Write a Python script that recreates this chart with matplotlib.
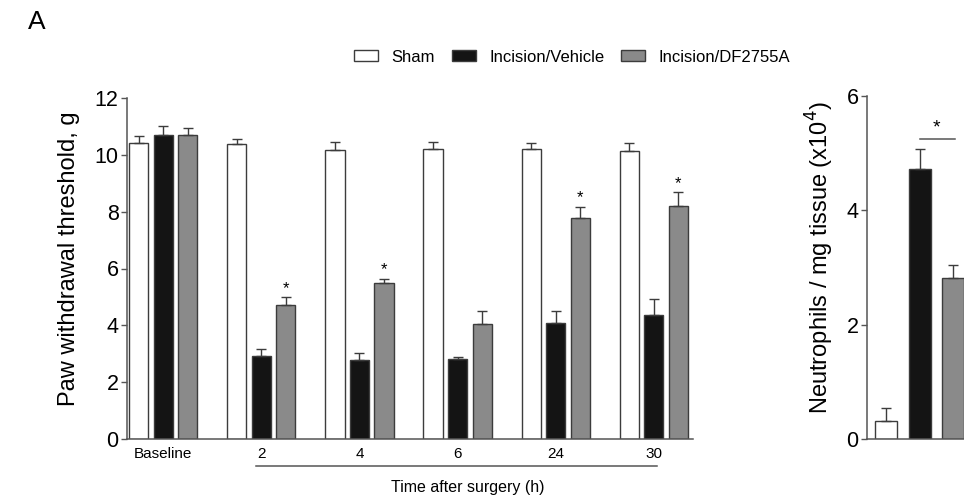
import numpy as np
import matplotlib.pyplot as plt
from matplotlib.patches import Patch
from matplotlib.transforms import blended_transform_factory

plt.rcParams['font.family'] = ['Liberation Sans', 'DejaVu Sans']

# ---- data ----
groups = ["Baseline", "2", "4", "6", "24", "30"]

sham = [10.43, 10.38, 10.18, 10.22, 10.20, 10.15]
sham_err = [0.25, 0.16, 0.28, 0.24, 0.22, 0.25]
vehicle = [10.71, 2.91, 2.77, 2.83, 4.07, 4.37]
vehicle_err = [0.32, 0.26, 0.27, 0.07, 0.43, 0.56]
df2755a = [10.71, 4.71, 5.48, 4.05, 7.77, 8.20]
df2755a_err = [0.25, 0.27, 0.15, 0.44, 0.40, 0.49]
df_star = [False, True, True, False, True, True]

neutro_labels = ["Sham", "Incision/Vehicle", "Incision/DF2755A"]
neutro = [0.32, 4.72, 2.82]
neutro_err = [0.22, 0.35, 0.22]

C_SHAM = "white"
C_VEH = "#141414"
C_DF = "#8a8a8a"
EDGE = "#3c3c3c"
AXC = "#555555"

W, H = 964, 497
fig = plt.figure(figsize=(W / 100, H / 100), dpi=100)


def px_axes(x0, y0, x1, y1):
    # pixel box (top-left origin) -> figure fraction
    return fig.add_axes([x0 / W, 1 - y1 / H, (x1 - x0) / W, (y1 - y0) / H])


def style(ax):
    for s in ("top", "right"):
        ax.spines[s].set_visible(False)
    for s in ("left", "bottom"):
        ax.spines[s].set_color(AXC)
        ax.spines[s].set_linewidth(1.1)
    ax.tick_params(axis="y", length=4, width=1, color=AXC, labelsize=15.5, pad=2)
    ax.tick_params(axis="x", length=0, labelsize=11, pad=6)


ekw = dict(ecolor=EDGE, elinewidth=1.0, capsize=3.5, capthick=1.0)

# ---- left panel ----
ax = px_axes(127, 98, 693, 439)
x = np.arange(len(groups))
bw, off = 0.195, 0.25
ax.bar(x - off, sham, bw, color=C_SHAM, edgecolor=EDGE, lw=1,
       yerr=[np.zeros(len(x)), sham_err], error_kw=ekw, label="Sham")
ax.bar(x, vehicle, bw, color=C_VEH, edgecolor=EDGE, lw=1,
       yerr=[np.zeros(len(x)), vehicle_err], error_kw=ekw, label="Incision/Vehicle")
ax.bar(x + off, df2755a, bw, color=C_DF, edgecolor=EDGE, lw=1,
       yerr=[np.zeros(len(x)), df2755a_err], error_kw=ekw, label="Incision/DF2755A")
for xi, v, e, s in zip(x, df2755a, df2755a_err, df_star):
    if s:
        ax.text(xi + off, v + e + 0.05, "*", ha="center", va="bottom", fontsize=12)
ax.set_xlim(-0.37, 5.40)
ax.set_ylim(0, 12)
ax.set_yticks([0, 2, 4, 6, 8, 10, 12])
ax.set_xticks(x)
ax.set_xticklabels(groups)
style(ax)
ax.set_ylabel("Paw withdrawal threshold, g", fontsize=17)
ax.yaxis.set_label_coords(-0.083, 0.53)

tr = blended_transform_factory(ax.transData, ax.transAxes)
ax.plot([0.95, 5.03], [-0.079, -0.079], color=AXC, lw=1.1, transform=tr, clip_on=False)
ax.text(3.10, -0.143, "Time after surgery (h)", transform=tr, ha="center",
        va="center", fontsize=11.5)

# ---- right panel ----
ax2 = px_axes(867, 96, 1000, 439)
xr = np.arange(len(neutro))
ax2.bar(xr, neutro, 0.66, color=[C_SHAM, C_VEH, C_DF], edgecolor=EDGE, lw=1,
        yerr=[np.zeros(len(xr)), neutro_err], error_kw=ekw)
ax2.plot([1.0, 2.06], [5.25, 5.25], color=AXC, lw=1.1)
ax2.text(1.5, 5.3, "*", ha="center", va="bottom", fontsize=14)
ax2.set_xlim(-0.57, 3.4)
ax2.set_ylim(0, 6)
ax2.set_yticks([0, 2, 4, 6])
ax2.set_xticks([])
style(ax2)
ax2.set_ylabel("Neutrophils / mg tissue (x10$^4$)", fontsize=17)
ax2.yaxis.set_label_coords(-0.23, 0.53)

# ---- legend and panel letter ----
handles = [Patch(facecolor=c, edgecolor=EDGE, lw=1) for c in (C_SHAM, C_VEH, C_DF)]
fig.legend(handles, neutro_labels, ncol=3, frameon=False, fontsize=12,
           loc="center left", bbox_to_anchor=(354 / W, 1 - 57 / H),
           handlelength=1.45, handleheight=0.6, handletextpad=0.8,
           columnspacing=1.0, borderaxespad=0, borderpad=0)
fig.text(28 / W, 1 - 22 / H, "A", fontsize=19, va="center", ha="left")

fig.savefig("out.png", dpi=100)
